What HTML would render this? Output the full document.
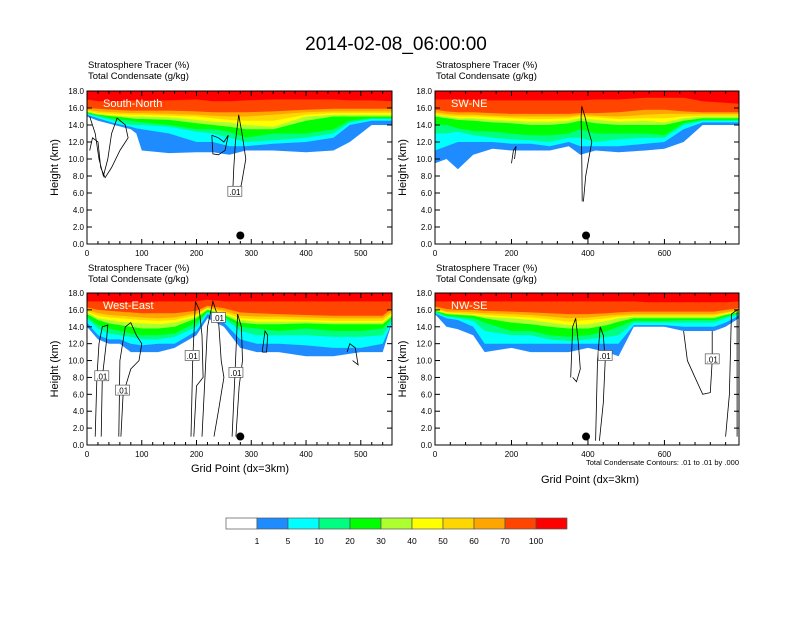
<!DOCTYPE html>
<html><head><meta charset="utf-8"><style>
body{margin:0;background:#fff;font-family:"Liberation Sans",sans-serif}
svg text{font-family:"Liberation Sans",sans-serif}
</style></head><body>
<svg id="c" width="792" height="612" xmlns="http://www.w3.org/2000/svg">
<text x="396" y="50" font-size="19" text-anchor="middle">2014-02-08_06:00:00</text>
</svg>
<script>
const levelLabels=["1","5","10","20","30","40","50","60","70","100"];
const levelColors=["#ffffff","#1e8cff","#00ffff","#00ff80","#00ff00","#adff2f","#ffff00","#ffd700","#ffa500","#ff4500","#ff0000"];
const panelNames=["South-North","SW-NE","West-East","NW-SE"];
const p1x=[0,20,50,80,90,100,150,200,230,260,290,340,400,450,480,520,557];
const p1e=[
[15,14.5,14,13.5,13,11,10.7,10.8,10.8,10.5,11,11,10.8,11,12,14,14],
[15.2,14.8,14.2,13.8,13.6,13.5,13,12,12,11.5,11.5,11.8,12,12.5,14,14.5,14.5],
[15.3,15,14.5,14,14,14,13.8,13.2,13,12.5,12,12.2,12.5,13,14.3,14.7,14.7],
[15.4,15.1,14.7,14.5,14.4,14.3,14,13.5,13.5,13.2,12.5,13,13,13.5,14.5,14.8,14.8],
[15.5,15.2,15,14.8,14.7,14.7,14.6,14.2,14,13.8,13.5,13.5,14.5,15,15,15,15],
[15.6,15.3,15.1,15,15,15,14.9,14.6,14.4,14.3,14,13.8,15,15.2,15.2,15.2,15.2],
[15.7,15.4,15.3,15.2,15.2,15.2,15.1,15,14.8,14.6,14.5,14.5,15.2,15.4,15.4,15.4,15.4],
[15.8,15.6,15.5,15.4,15.4,15.4,15.3,15.2,15.1,15,15,15.2,15.5,15.6,15.6,15.6,15.6],
[16,15.9,15.8,15.7,15.7,15.7,15.7,15.6,15.5,15.5,15.5,15.6,15.8,15.9,15.9,15.9,15.9],
[17,16.8,16.8,16.9,16.9,16.9,16.9,17,16.8,16.8,16.9,17,17,17,16.9,16.9,16.8]];
const p2x=[0,30,60,100,150,200,250,300,350,380,420,480,550,600,650,700,795];
const p2e=[
[9.5,10,8.8,10.5,11.2,11,11,11,11.5,10.5,11,10.8,11,11.2,12,14,14],
[11,11.5,12,12,12,11.8,11.8,11.5,12,11.5,11.5,11.5,11.8,12,13.5,14.3,14.3],
[13,13,13.2,12.8,12.5,12.3,12.2,12,12.5,12.5,12,12.3,12.5,12.5,14,14.5,14.5],
[14,14,13.6,13.3,13.2,13,12.8,12.8,13,13.5,13,13,13,12.8,14.2,14.6,14.6],
[15,14.8,14.6,14.5,14.3,14.2,14,14,14.2,14.5,14.2,14,14,14,14.5,14.8,14.8],
[15.2,15,14.8,14.8,14.6,14.5,14.4,14.4,14.5,14.8,14.6,14.4,14.5,14.3,14.8,15,15],
[15.3,15.1,15,15,14.9,14.8,14.7,14.7,14.8,15,14.9,14.7,14.8,14.8,15,15.1,15.1],
[15.5,15.3,15.2,15.2,15.1,15,15,15,15,15.2,15.1,15,15.2,15.3,15.3,15.3,15.3],
[15.8,15.6,15.5,15.5,15.4,15.3,15.3,15.3,15.3,15.4,15.4,15.5,15.8,15.8,15.6,15.5,15.5],
[17,17,17,16.9,16.9,16.9,16.9,16.9,16.9,16.9,17,17,17.2,17.2,17.2,16.8,16.5]];
const p3x=[0,20,40,60,80,100,130,160,200,220,250,280,310,350,400,450,500,540,557];
const p3e=[
[14,12.5,12,12,11,11,11,11.5,13,15,14,11.5,11,11,10.5,10.5,11,11,14.5],
[14.5,13,12.5,12.5,12,11.8,12,12,13.5,15.5,14.5,12.5,12,12,11.8,11.5,11.5,12,14.5],
[15,13.8,13.2,13,12.8,12.5,12.5,12.8,14,15.7,15,13.5,13,13,13,12.8,12.8,13,14.7],
[15.2,14.2,13.8,13.5,13.2,13,13,13.2,14.5,15.8,15.2,14,13.8,13.5,13.8,13.5,13.5,13.8,15],
[15.5,14.8,14.4,14.2,14,13.8,13.8,14,15,16,15.4,14.5,14.3,14.3,14.4,14.3,14.3,14.3,15.2],
[15.7,15,14.8,14.6,14.5,14.4,14.3,14.5,15.2,16.1,15.5,14.8,14.6,14.6,14.6,14.5,14.5,14.5,15.4],
[15.8,15.3,15.1,15,14.9,14.8,14.7,14.8,15.4,16.2,15.7,15,14.9,14.9,14.8,14.7,14.7,14.7,15.6],
[16,15.6,15.4,15.3,15.2,15.1,15,15.1,15.6,16.3,15.9,15.3,15.2,15.2,15.1,15,15,15,15.8],
[16.3,16,15.9,15.8,15.7,15.6,15.6,15.6,15.9,16.5,16.2,15.7,15.6,15.5,15.4,15.3,15.3,15.3,16.2],
[17,17,17,16.9,16.9,16.9,17,17,17,17.2,17,17,17,17,17,17,17,17,17]];
const p4x=[0,30,60,100,130,200,250,300,350,400,450,480,520,560,600,650,700,730,760,795];
const p4e=[
[15.5,14,13.7,13,11,11.5,11,11,11,11.5,11,10.5,14,14,14,13.5,13.5,13.5,14,15],
[15.6,15,14.8,14,12,12,12,12,12,12,12,12,14.2,14.2,14.2,14,14,14,14.5,15.3],
[15.7,15.2,15,14.7,13.5,13,13,12.5,12.3,12.5,12.8,13,14.5,14.5,14.5,14.5,14.5,14.5,15,15.5],
[15.8,15.3,15.2,15,14.5,13.5,13.5,13,12.8,13,13.5,14,14.7,14.7,14.7,14.8,14.8,14.8,15.2,15.6],
[15.9,15.5,15.4,15.3,15,14.5,14.3,14,13.8,13.8,14.2,14.6,15,15,15,15,15,15,15.4,15.7],
[16,15.6,15.5,15.4,15.2,15,14.8,14.5,14.2,14.3,14.7,15,15.2,15.2,15.2,15.2,15.2,15.2,15.5,15.8],
[16.1,15.7,15.6,15.5,15.4,15.2,15.1,14.9,14.6,14.8,15,15.2,15.3,15.3,15.3,15.3,15.3,15.3,15.6,15.9],
[16.2,15.8,15.8,15.7,15.6,15.5,15.4,15.2,15,15.1,15.3,15.4,15.5,15.5,15.5,15.5,15.5,15.5,15.7,16],
[16.4,16.1,16,16,15.9,15.8,15.7,15.6,15.5,15.5,15.6,15.7,15.8,15.8,15.8,15.8,15.8,15.8,16,16.2],
[17,17,17,17,17,17,17,17,17,17,17,17,17,16.9,16.9,16.9,16.9,16.9,16.9,17]];
const p1c=[[[5,15],[15,13],[22,10],[30,8],[38,10],[45,13],[55,14.8],[70,14],[75,12.5],[60,11],[45,9],[33,7.8],[25,9],[20,12],[10,12.5],[5,11]],
[[266,6],[268,9],[271,12],[277,15.2],[283,13],[290,10],[282,7],[275,5.8],[266,6]],
[[228,12.8],[240,12.5],[250,12],[258,12.8],[252,11],[240,10.5],[230,10.6],[228,12.8]]];
const p2c=[[[385,5],[384,10],[382,15],[384,16.2],[392,15],[400,13.5],[410,12],[402,10],[394,8],[388,5]],
[[200,9.5],[205,11],[212,11.5],[208,10]]];
const p3c=[[[15,1],[18,8],[22,12],[28,14],[38,14.2],[35,12],[28,8],[26,1]],
[[58,1],[60,10],[65,12],[70,14],[80,14.5],[90,13],[100,12],[95,10],[80,9],[66,6],[62,1]],
[[190,1],[193,10],[198,17],[205,16],[210,13],[212,8],[200,7],[195,1]],
[[210,1],[220,14],[230,17],[240,15],[245,10],[250,8],[240,4],[232,1]],
[[265,1],[270,8],[275,15.5],[282,14],[284,10],[278,7],[272,1]],
[[320,11],[325,13.5],[330,13],[328,11],[320,11]],
[[475,11],[480,12],[490,11.5],[495,9.5],[485,10]]];
const p4c=[[[355,8],[360,14],[368,15],[375,12],[380,9],[370,7.5],[360,8]],
[[420,0.5],[425,10],[432,14],[440,13],[445,10],[440,5],[430,0.5]],
[[650,13.5],[660,10],[680,8],[700,6],[720,6.2],[725,10],[725,13.5]],
[[760,1],[770,6],[775,15.5],[790,16],[790,1]]];
const panels=[
{x0:87,y0:91,w:305,h:153,xmax:557,xt:100,xs:p1x,e:p1e,c:p1c,dot:280,lab:[[270,6.2]],tx:88,ty:68,xl:null},
{x0:435,y0:91,w:304,h:153,xmax:795,xt:200,xs:p2x,e:p2e,c:p2c,dot:395,lab:[],tx:436,ty:68,xl:null},
{x0:87,y0:293,w:305,h:152,xmax:557,xt:100,xs:p3x,e:p3e,c:p3c,dot:280,lab:[[27,8.2],[65,6.5],[192,10.6],[240,15.1],[272,8.6]],tx:88,ty:271,xl:[240,472]},
{x0:435,y0:293,w:304,h:152,xmax:795,xt:200,xs:p4x,e:p4e,c:p4c,dot:395,lab:[[445,10.6],[725,10.2]],tx:436,ty:271,xl:[590,483]}];
const svg=document.getElementById('c');
const NS="http://www.w3.org/2000/svg";
function mk(t,a,parent){const e=document.createElementNS(NS,t);for(const k in a)e.setAttribute(k,a[k]);(parent||svg).appendChild(e);return e;}
panels.forEach((p,i)=>{
 const sx=v=>p.x0+v/p.xmax*p.w, sy=v=>p.y0+p.h-v/18*p.h;
 const g=mk('g',{});
 
 
 p.e.forEach((edge,li)=>{
  let d='M'+sx(0)+','+sy(18);
  p.xs.forEach((xv,k)=>{d+=' L'+sx(xv).toFixed(1)+','+sy(edge[k]).toFixed(1);});
  d+=' L'+sx(p.xmax)+','+sy(18)+'Z';
  const f=mk('path',{d:d,fill:levelColors[li+1]},g);
  
  
 });
 p.c.forEach((pts,ci)=>{
  const l=mk('polyline',{points:pts.map(q=>sx(q[0]).toFixed(1)+','+sy(q[1]).toFixed(1)).join(' '),fill:'none',stroke:'#000','stroke-width':0.8},g);
  
  
 });
 p.lab.forEach(q=>{
  const r=mk('rect',{x:sx(q[0])-7,y:sy(q[1])-5,width:14,height:10,fill:'#fff',stroke:'#555','stroke-width':0.7},g);
  
  
  const t=mk('text',{x:sx(q[0]),y:sy(q[1])+3.5,'font-size':8,'text-anchor':'middle'},g);t.textContent='.01';
  
  
 });
 const dot=mk('circle',{cx:sx(p.dot),cy:sy(1),r:4,fill:'#000'},g);
 
 
 const fr=mk('rect',{x:p.x0,y:p.y0,width:p.w,height:p.h,fill:'none',stroke:'#000','stroke-width':1},g);
 
 
 for(let v=0;v<=18;v+=2){const y=sy(v),L=5;
  mk('line',{x1:p.x0,x2:p.x0+L,y1:y,y2:y,stroke:'#000'},g);mk('line',{x1:p.x0+p.w,x2:p.x0+p.w-L,y1:y,y2:y,stroke:'#000'},g);
  const t=mk('text',{x:p.x0-3,y:y+3,'font-size':8,'text-anchor':'end'},g);t.textContent=v.toFixed(1);
  }
 for(let v=0;v<=p.xmax;v+=p.xt/5){const x=sx(v),maj=Math.abs(v/p.xt-Math.round(v/p.xt))<1e-6,L=maj?5:3;
  mk('line',{x1:x,x2:x,y1:p.y0+p.h,y2:p.y0+p.h-L,stroke:'#000'},g);mk('line',{x1:x,x2:x,y1:p.y0,y2:p.y0+L,stroke:'#000'},g);
  if(maj){const t=mk('text',{x:x,y:p.y0+p.h+12,'font-size':8,'text-anchor':'middle'},g);t.textContent=Math.round(v);
   }}
 const nm=mk('text',{x:p.x0+16,y:p.y0+16,'font-size':11,fill:'#fff'},g);nm.textContent=panelNames[i];
 
 const t1=mk('text',{x:p.tx,y:p.ty,'font-size':9.5},g);t1.textContent='Stratosphere Tracer   (%)';
 
 const t2=mk('text',{x:p.tx,y:p.ty+11,'font-size':9.5},g);t2.textContent='Total Condensate   (g/kg)';
 
 const yl=mk('text',{x:0,y:0,'font-size':11,'text-anchor':'middle',transform:'translate('+(p.x0-29)+','+(p.y0+p.h/2)+') rotate(-90)'},g);yl.textContent='Height (km)';
 
 if(p.xl){const xl=mk('text',{x:p.xl[0],y:p.xl[1],'font-size':11,'text-anchor':'middle'},g);xl.textContent='Grid Point (dx=3km)';
  }
});
const note=mk('text',{x:739,y:465,'font-size':7.5,'text-anchor':'end'});note.textContent='Total Condensate Contours: .01 to .01 by .000';

const lb=mk('g',{});

const bx=226,bw=31,by=518,bh=11;
levelColors.forEach((c,k)=>{const r=mk('rect',{x:bx+k*bw,y:by,width:bw,height:bh,fill:c,stroke:'#555','stroke-width':0.7},lb);
 });
levelLabels.forEach((s,k)=>{const t=mk('text',{x:bx+(k+1)*bw,y:544,'font-size':8.5,'text-anchor':'middle'},lb);t.textContent=s;
 });
</script>
</body></html>
